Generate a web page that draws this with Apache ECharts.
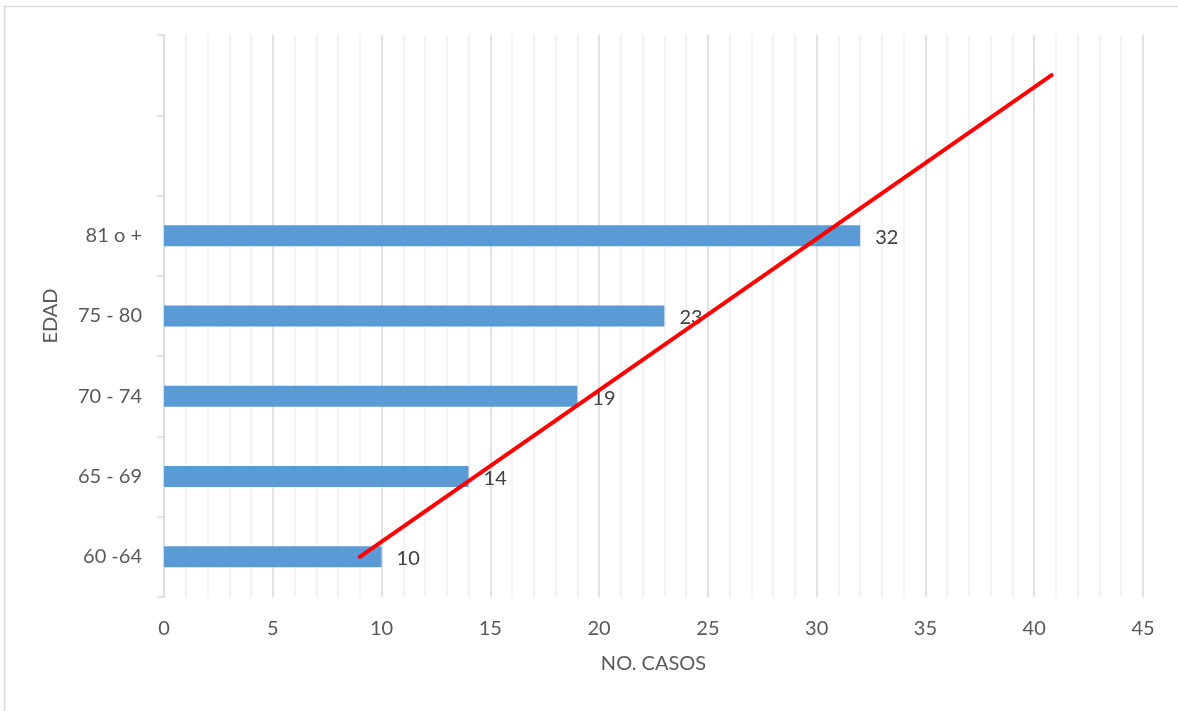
<!DOCTYPE html>
<html>
<head>
<meta charset="utf-8">
<script src="https://cdn.jsdelivr.net/npm/echarts@6/dist/echarts.min.js"></script>
<style>html,body{margin:0;padding:0;background:#fff}#c{width:1178px;height:711px}</style>
</head>
<body>
<div id="c"></div>
<script>
const categories = ['60 -64', '65 - 69', '70 - 74', '75 - 80', '81 o +', '', ''];
const casos = [10, 14, 19, 23, 32];
const trendStart = [9.0, 0];   // [NO. CASOS, category index]
const trendEnd = [40.8, 6];
const xMin = 0, xMax = 45, xInterval = 5;

const FONT = 'Lato';
const FS = 20;
const chart = echarts.init(document.getElementById('c'));
chart.setOption({
  backgroundColor: '#ffffff',
  animation: false,
  textStyle: { fontFamily: FONT },
  graphic: [{
    type: 'rect', silent: true,
    shape: { x: 4.5, y: 6.5, width: 1300, height: 900 },
    style: { fill: 'none', stroke: '#d9d9d9', lineWidth: 1.5 }
  }],
  grid: { left: 164, right: 35, top: 35, bottom: 114, containLabel: false },
  xAxis: {
    type: 'value', min: xMin, max: xMax, interval: xInterval,
    name: 'NO. CASOS', nameLocation: 'middle', nameGap: 57,
    nameTextStyle: { color: '#595959', fontSize: FS, fontFamily: FONT },
    axisLine: { show: false }, axisTick: { show: false },
    axisLabel: { color: '#595959', fontSize: FS, margin: 22, fontFamily: FONT },
    splitLine: { show: true, lineStyle: { color: '#d9d9d9', width: 1.5 } },
    minorTick: { show: false, splitNumber: 5 },
    minorSplitLine: { show: true, lineStyle: { color: '#f0f0f0', width: 1.5 } }
  },
  yAxis: {
    type: 'category', data: categories,
    name: 'EDAD', nameLocation: 'middle', nameGap: 103, nameRotate: 90,
    nameTextStyle: { color: '#595959', fontSize: FS, fontFamily: FONT },
    axisLine: { show: true, lineStyle: { color: '#d9d9d9', width: 1.5 } },
    axisTick: { show: true, length: 7, lineStyle: { color: '#d9d9d9', width: 1.5 } },
    axisLabel: { color: '#595959', fontSize: FS, margin: 22, fontFamily: FONT, padding: [3, 0, 0, 0] },
    splitLine: { show: false }
  },
  series: [
    {
      type: 'bar', data: casos, barWidth: 21, z: 2,
      itemStyle: { color: '#5b9bd5' },
      label: { show: true, position: 'right', distance: 15, offset: [0, 2], color: '#404040', fontSize: FS, fontFamily: FONT }
    },
    {
      type: 'line', data: [trendStart, trendEnd], z: 5,
      showSymbol: false, symbol: 'none',
      lineStyle: { color: '#ff0000', width: 4, cap: 'round' }
    }
  ]
});
</script>
</body>
</html>
